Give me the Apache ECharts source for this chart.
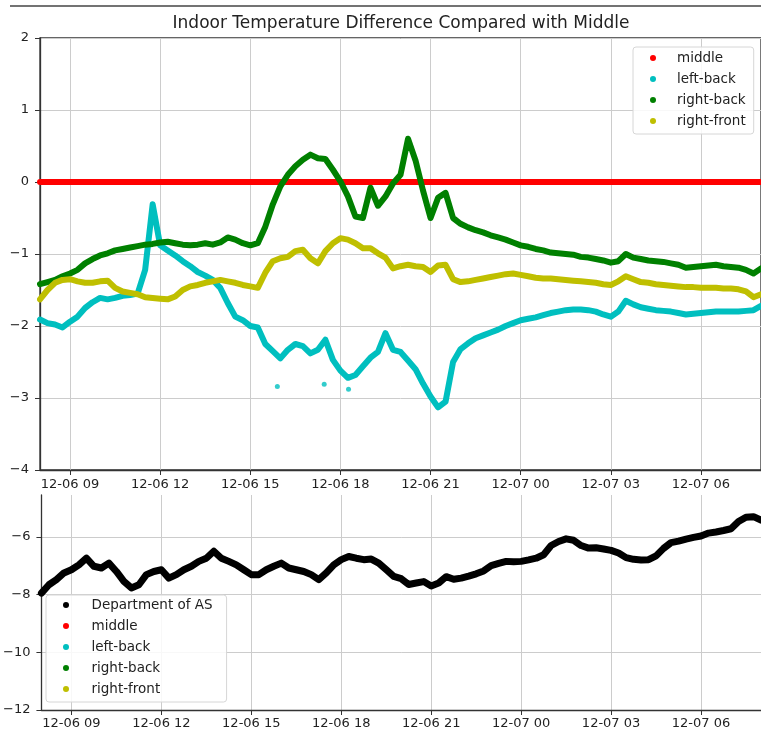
<!DOCTYPE html>
<html><head><meta charset="utf-8">
<script src="https://cdn.jsdelivr.net/npm/echarts@6/dist/echarts.min.js"></script>
<style>html,body{margin:0;padding:0;background:#fff}#chart{width:761px;height:735px}</style>
</head><body><div id="chart"></div>
<script>
// x values are hours since 12-06 00:00
const startHour = 8;      // first sample: 12-06 08:00
const stepHours = 0.25;   // one sample every 15 minutes
const middleStep = 1;
const xTickValues = [9, 12, 15, 18, 21, 24, 27, 30];
const xTickLabels = ['12-06 09', '12-06 12', '12-06 15', '12-06 18', '12-06 21', '12-07 00', '12-07 03', '12-07 06'];
const bottomYTicks = [-12, -10, -8, -6];

const middle = [0,0,0,0,0,0,0,0,0,0,0,0,0,0,0,0,0,0,0,0,0,0,0,0,0];

const leftBack = [
 -1.91,-1.96,-1.98,-2.02,-1.94,-1.87,-1.75,-1.67,-1.61,-1.63,-1.61,-1.58,
 -1.57,-1.55,-1.22,-0.31,-0.88,-0.95,-1.02,-1.10,-1.17,-1.25,-1.30,-1.36,
 -1.47,-1.68,-1.87,-1.92,-2.00,-2.02,-2.25,-2.35,-2.45,-2.33,-2.25,-2.28,
 -2.38,-2.33,-2.19,-2.47,-2.62,-2.72,-2.68,-2.56,-2.44,-2.36,-2.10,-2.33,
 -2.36,-2.48,-2.60,-2.80,-2.98,-3.13,-3.05,-2.50,-2.32,-2.24,-2.17,-2.13,
 -2.09,-2.05,-2.00,-1.96,-1.92,-1.90,-1.88,-1.85,-1.82,-1.80,-1.78,-1.77,
 -1.77,-1.78,-1.80,-1.84,-1.87,-1.80,-1.65,-1.70,-1.74,-1.76,-1.78,-1.79,
 -1.80,-1.82,-1.84,-1.83,-1.82,-1.81,-1.80,-1.80,-1.80,-1.80,-1.79,-1.78,
 -1.72];
const leftBackOutliers = [[15.9, -2.84], [17.46, -2.81], [18.27, -2.88]];

const rightBack = [
 -1.42,-1.39,-1.36,-1.31,-1.27,-1.22,-1.13,-1.07,-1.02,-0.99,-0.95,-0.93,
 -0.91,-0.89,-0.87,-0.86,-0.84,-0.83,-0.85,-0.87,-0.88,-0.87,-0.85,-0.87,
 -0.84,-0.77,-0.80,-0.85,-0.88,-0.85,-0.62,-0.31,-0.06,0.10,0.22,0.31,
 0.38,0.33,0.32,0.17,0.01,-0.20,-0.48,-0.50,-0.08,-0.33,-0.20,-0.02,
 0.10,0.60,0.30,-0.12,-0.50,-0.22,-0.15,-0.50,-0.58,-0.63,-0.67,-0.70,
 -0.74,-0.77,-0.80,-0.84,-0.88,-0.90,-0.93,-0.95,-0.98,-0.99,-1.00,-1.01,
 -1.04,-1.05,-1.07,-1.09,-1.12,-1.10,-1.00,-1.05,-1.07,-1.09,-1.10,-1.11,
 -1.13,-1.15,-1.19,-1.18,-1.17,-1.16,-1.15,-1.17,-1.18,-1.19,-1.22,-1.27,
 -1.20];

const rightFront = [
 -1.63,-1.50,-1.40,-1.36,-1.35,-1.38,-1.40,-1.40,-1.38,-1.37,-1.47,-1.52,
 -1.54,-1.56,-1.60,-1.61,-1.62,-1.63,-1.59,-1.50,-1.45,-1.43,-1.40,-1.38,
 -1.36,-1.38,-1.40,-1.43,-1.45,-1.47,-1.26,-1.10,-1.06,-1.04,-0.96,-0.94,
 -1.06,-1.13,-0.96,-0.85,-0.78,-0.80,-0.85,-0.92,-0.92,-0.99,-1.05,-1.20,
 -1.17,-1.15,-1.17,-1.18,-1.25,-1.16,-1.15,-1.35,-1.39,-1.38,-1.36,-1.34,
 -1.32,-1.30,-1.28,-1.27,-1.29,-1.31,-1.33,-1.34,-1.34,-1.35,-1.36,-1.37,
 -1.38,-1.39,-1.40,-1.42,-1.43,-1.38,-1.31,-1.35,-1.39,-1.40,-1.42,-1.43,
 -1.44,-1.45,-1.46,-1.46,-1.47,-1.47,-1.47,-1.48,-1.48,-1.49,-1.52,-1.60,
 -1.56];

const deptAS = [
 -7.95,-7.66,-7.48,-7.25,-7.14,-6.97,-6.74,-7.02,-7.08,-6.91,-7.20,-7.54,
 -7.77,-7.66,-7.31,-7.20,-7.14,-7.43,-7.31,-7.14,-7.02,-6.85,-6.74,-6.50,
 -6.74,-6.85,-6.97,-7.14,-7.31,-7.31,-7.14,-7.02,-6.91,-7.08,-7.14,-7.20,
 -7.31,-7.48,-7.25,-6.97,-6.79,-6.68,-6.74,-6.79,-6.77,-6.91,-7.14,-7.37,
 -7.45,-7.65,-7.60,-7.55,-7.70,-7.60,-7.38,-7.47,-7.43,-7.36,-7.28,-7.18,
 -7.00,-6.92,-6.85,-6.86,-6.85,-6.80,-6.74,-6.62,-6.30,-6.16,-6.07,-6.12,
 -6.30,-6.39,-6.38,-6.42,-6.47,-6.56,-6.72,-6.78,-6.80,-6.79,-6.66,-6.40,
 -6.20,-6.15,-6.08,-6.02,-5.97,-5.87,-5.83,-5.78,-5.72,-5.47,-5.32,-5.30,
 -5.42];

const colors = {middle:'#ff0000', leftBack:'#00bfbf', rightBack:'#008000', rightFront:'#bfbf00', dept:'#000000'};

function pairs(vals, start, step) { return vals.map((v, i) => [start + i * step, v]); }
const minus = v => String(v).replace('-', '\u2212');

const chart = echarts.init(document.getElementById('chart'));
const FONT = 'DejaVu Sans';
const axisLineStyle = {color: '#333', width: 1.3};
const gridLine = {show: true, lineStyle: {color: '#cccccc', width: 1}};

function xAxisFor(gi, margin) {
  return {
    type: 'value', gridIndex: gi, min: 8, max: 32,
    axisLine: {show: true, onZero: false, lineStyle: axisLineStyle},
    axisTick: {show: true, customValues: xTickValues, length: 5, lineStyle: {color: '#333'}},
    axisLabel: {customValues: xTickValues, fontSize: 13, color: '#222', margin: margin, fontFamily: FONT,
      formatter: v => { const i = xTickValues.indexOf(v); return i >= 0 ? xTickLabels[i] : ''; }},
    splitLine: gridLine
  };
}

function lineSeries(name, vals, color, width, xi, start, step) {
  return {
    name, type: 'line', xAxisIndex: xi, yAxisIndex: xi,
    data: pairs(vals, start, step), showSymbol: false, symbol: 'none',
    itemStyle: {color}, lineStyle: {color, width, cap: 'round', join: 'round'},
    emphasis: {disabled: true}, silent: true
  };
}

const legendCommon = {
  orient: 'vertical', icon: 'circle', itemHeight: 6, itemGap: 5,
  backgroundColor: 'rgba(255,255,255,0.85)', borderColor: '#d6d6d6', borderWidth: 1, borderRadius: 3,
  textStyle: {fontSize: 13.5, color: '#222', fontFamily: FONT, lineHeight: 16},
  selectedMode: false
};

chart.setOption({
  animation: false,
  textStyle: {fontFamily: FONT},
  graphic: [
    {type: 'line', shape: {x1: 10, y1: 6, x2: 761, y2: 6}, style: {stroke: '#444', lineWidth: 1.5}, silent: true},
    {type: 'text', x: 401, y: 24, style: {text: 'Indoor Temperature Difference Compared with Middle', fontSize: 17,
      fontFamily: FONT, fill: '#222', align: 'center', verticalAlign: 'middle'}, silent: true}
  ],
  grid: [
    {left: 40, top: 38, width: 723, height: 432, show: true, borderColor: '#333', borderWidth: 1.3, backgroundColor: 'transparent'},
    {left: 40, top: 495, width: 723, height: 215}
  ],
  xAxis: [xAxisFor(0, 8), xAxisFor(1, 7)],
  yAxis: [
    {type: 'value', gridIndex: 0, min: -4, max: 2, interval: 1,
      axisLine: {show: true, onZero: false, lineStyle: axisLineStyle},
      axisTick: {show: true, length: 5, lineStyle: {color: '#333'}},
      axisLabel: {fontSize: 13, color: '#222', margin: 11, formatter: minus},
      splitLine: gridLine},
    {type: 'value', gridIndex: 1, min: -12, max: -4.55,
      axisLine: {show: true, onZero: false, lineStyle: axisLineStyle},
      axisTick: {show: true, length: 5, customValues: bottomYTicks, lineStyle: {color: '#333'}},
      axisLabel: {fontSize: 13, color: '#222', margin: 11, customValues: bottomYTicks, formatter: minus},
      splitLine: gridLine}
  ],
  legend: [
    Object.assign({}, legendCommon, {left: 633, top: 47, padding: [3, 8, 5, 17], itemWidth: 38,
      data: ['middle', 'left-back', 'right-back', 'right-front']}),
    Object.assign({}, legendCommon, {left: 46, top: 595, padding: [2, 14, 5, 17], itemWidth: 41,
      data: ['Department of AS', 'middle', 'left-back', 'right-back', 'right-front']})
  ],
  series: [
    lineSeries('middle', middle, colors.middle, 6, 0, startHour, middleStep),
    lineSeries('left-back', leftBack, colors.leftBack, 6, 0, startHour, stepHours),
    {name: 'left-back', type: 'scatter', xAxisIndex: 0, yAxisIndex: 0, data: leftBackOutliers,
      symbolSize: 5, itemStyle: {color: colors.leftBack}, silent: true},
    lineSeries('right-back', rightBack, colors.rightBack, 6, 0, startHour, stepHours),
    lineSeries('right-front', rightFront, colors.rightFront, 6, 0, startHour, stepHours),
    lineSeries('Department of AS', deptAS, colors.dept, 7, 1, startHour, stepHours)
  ]
});
</script></body></html>
